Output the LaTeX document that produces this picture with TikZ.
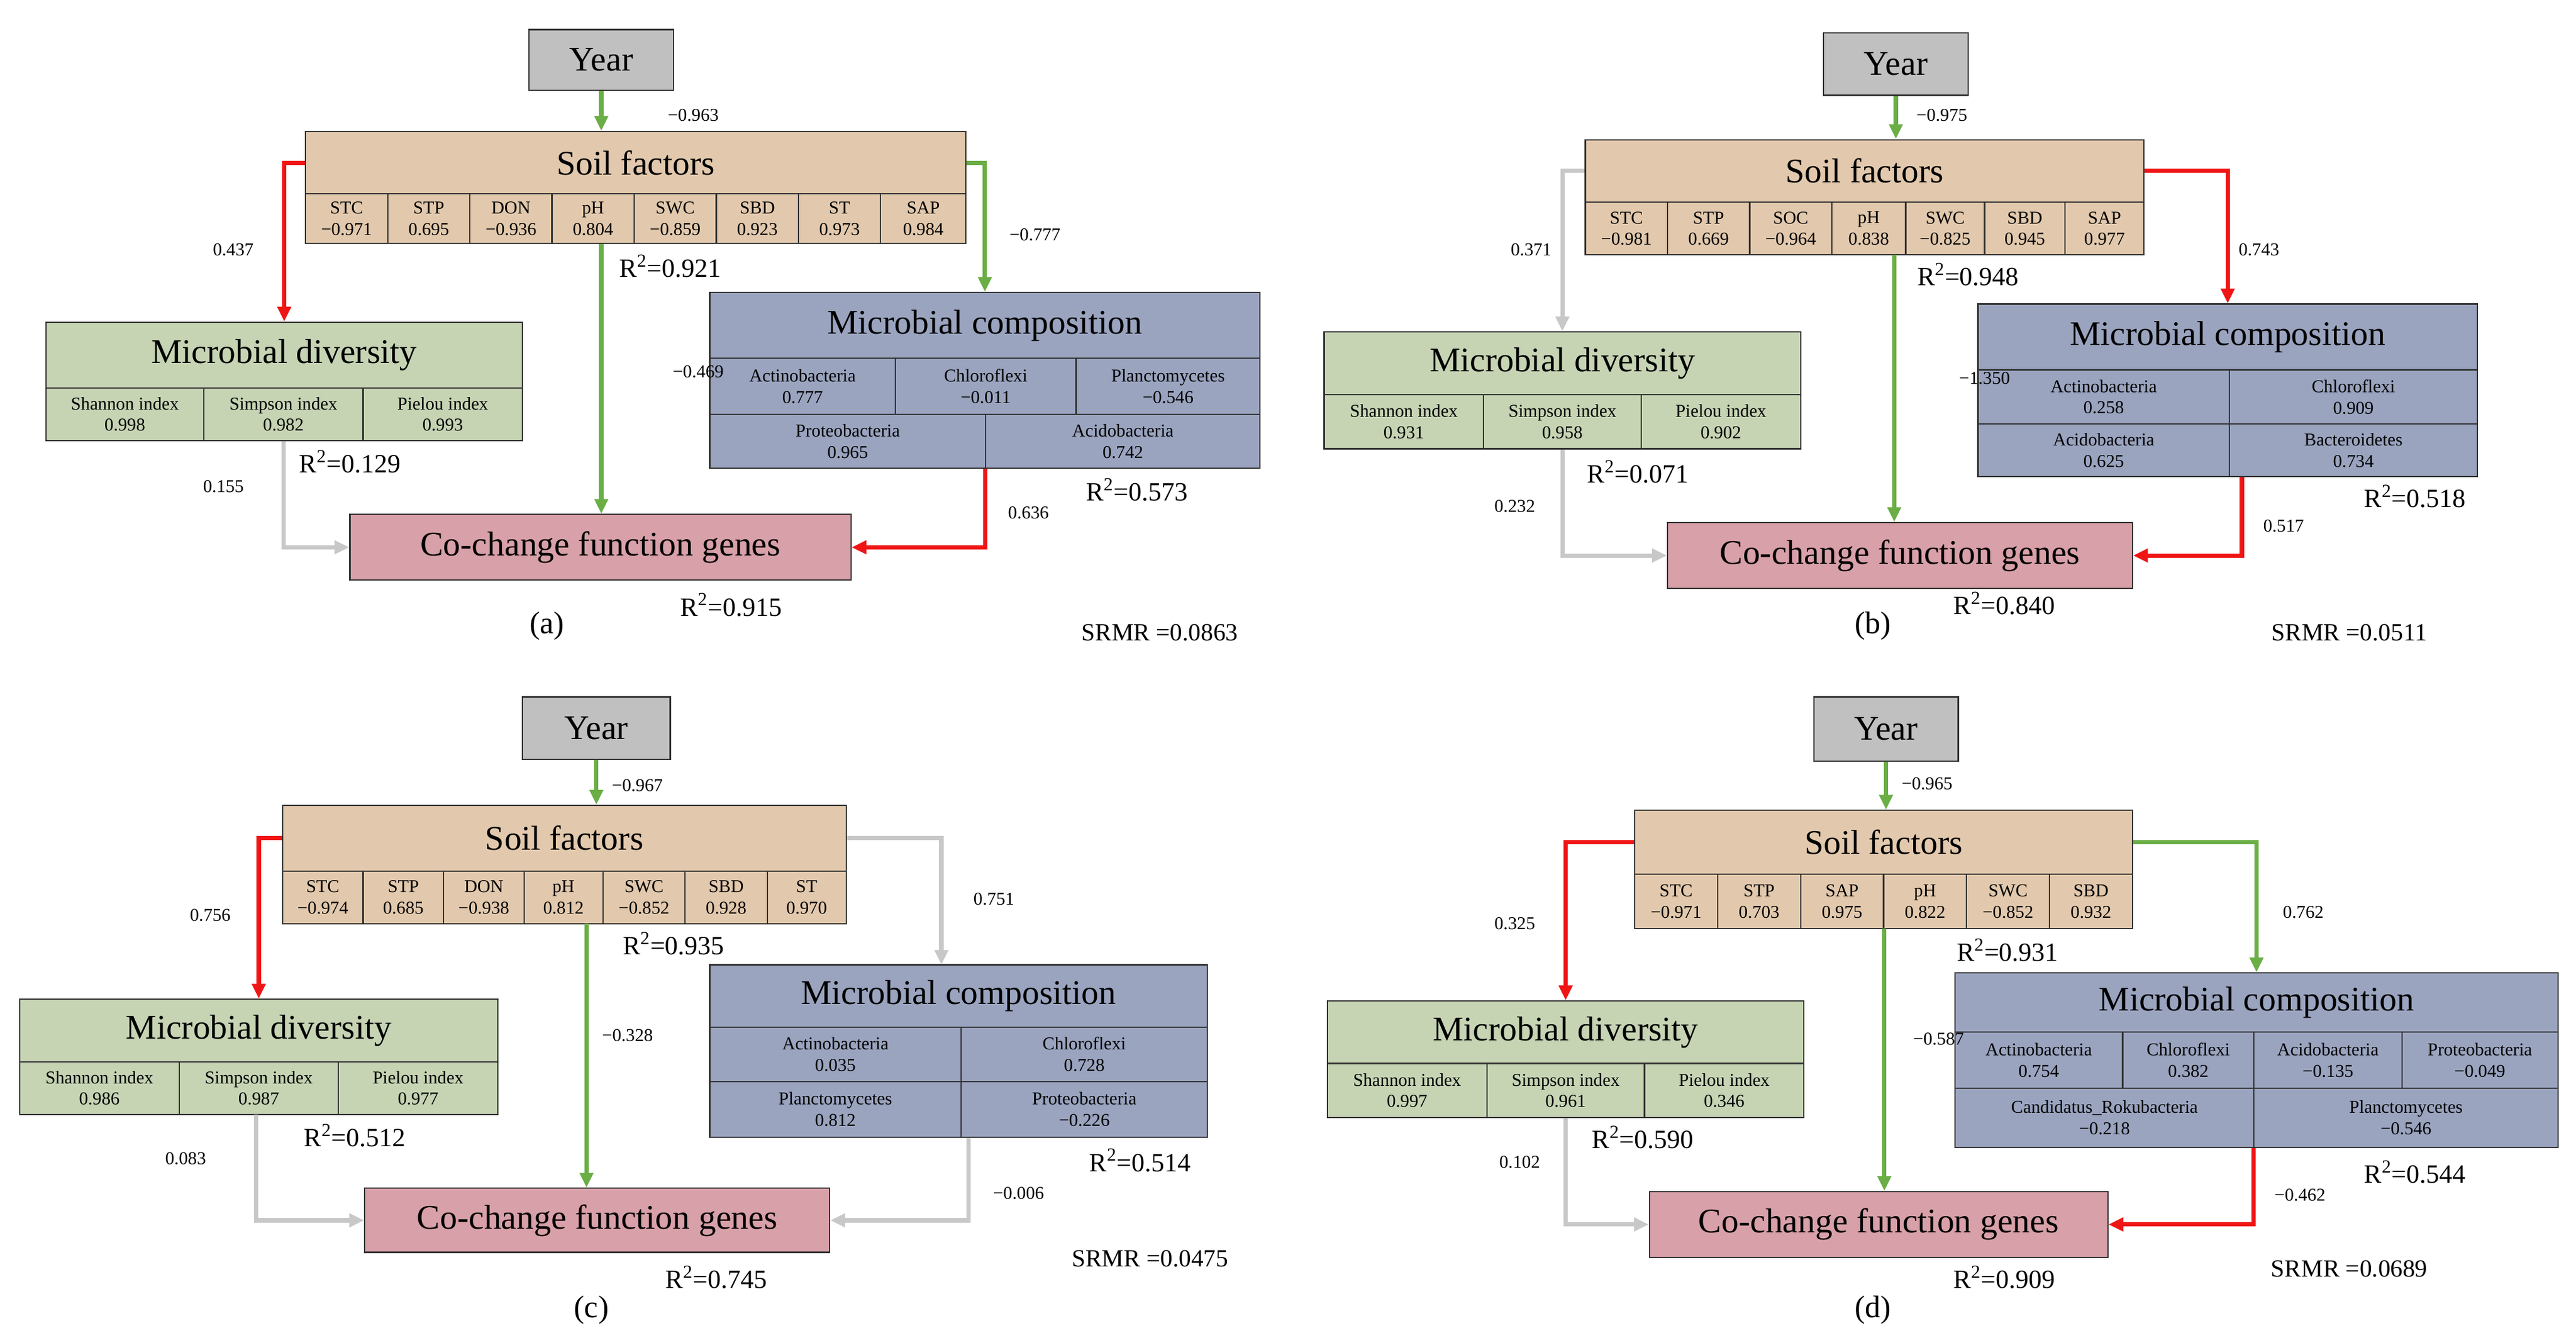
\documentclass[tikz,border=0pt]{standalone}
\usepackage{fontspec}
\setmainfont{Liberation Serif}
\usetikzlibrary{arrows.meta}
\definecolor{ctan}{HTML}{E2C9AD}
\definecolor{cdiv}{HTML}{C6D4B4}
\definecolor{ccomp}{HTML}{9AA4BF}
\definecolor{cgen}{HTML}{D8A0A8}
\definecolor{cyear}{HTML}{C0C0C0}
\definecolor{agreen}{HTML}{6AAE45}
\definecolor{ared}{HTML}{F01515}
\definecolor{agray}{HTML}{C8C8C8}
\tikzset{
 cell/.style={draw=black!80,line width=0.8pt,inner sep=0pt,align=center},
 ttl/.style={font=\fontsize{21}{24}\selectfont},
 tb/.style={font=\fontsize{11}{13}\selectfont},
 soil/.style={fill=ctan},div/.style={fill=cdiv},comp/.style={fill=ccomp},
 gen/.style={fill=cgen},yr/.style={fill=cyear},
 ar/.style={line width=2.6pt,-{Triangle[length=9pt,width=8pt]}},
 ag/.style={ar,agreen},arr/.style={ar,ared},agr/.style={ar,agray},
 lb/.style={font=\fontsize{11}{13}\selectfont,inner sep=1pt},
 rr/.style={font=\fontsize{16}{18}\selectfont,inner sep=1pt},
 pl/.style={font=\fontsize{19}{22}\selectfont,inner sep=1pt},
 sr/.style={font=\fontsize{15}{17}\selectfont,inner sep=1pt},
}
\newcommand\cl[7]{\node[cell,#6,minimum width={(#4-#2)*1pt},minimum height={(#5-#3)*1pt}] (#1) at ({(#2+#4)/2},{(#3+#5)/2}) {#7};}
\newcommand\Rsq[1]{R\textsuperscript{2}=#1}
\begin{document}
\begin{tikzpicture}[x=1pt,y=-1pt]
\useasboundingbox[fill=white] (0,0) rectangle (1568,808);
% ---------------- (a)
\cl{ya}{322}{18}{410}{55}{yr,ttl}{Year}
\cl{sat}{186}{80}{588}{118}{soil,ttl}{Soil factors}
\cl{sa1}{186}{118}{236}{148}{soil,tb}{STC\\−0.971}
\cl{sa2}{236}{118}{286}{148}{soil,tb}{STP\\0.695}
\cl{sa3}{286}{118}{336}{148}{soil,tb}{DON\\−0.936}
\cl{sa4}{336}{118}{386}{148}{soil,tb}{pH\\0.804}
\cl{sa5}{386}{118}{436}{148}{soil,tb}{SWC\\−0.859}
\cl{sa6}{436}{118}{486}{148}{soil,tb}{SBD\\0.923}
\cl{sa7}{486}{118}{536}{148}{soil,tb}{ST\\0.973}
\cl{sa8}{536}{118}{588}{148}{soil,tb}{SAP\\0.984}
\cl{dat}{28}{196}{318}{236}{div,ttl}{Microbial diversity}
\cl{da1}{28}{236}{124}{268}{div,tb}{Shannon index\\0.998}
\cl{da2}{124}{236}{221}{268}{div,tb}{Simpson index\\0.982}
\cl{da3}{221}{236}{318}{268}{div,tb}{Pielou index\\0.993}
\cl{cat}{432}{178}{767}{218}{comp,ttl}{Microbial composition}
\cl{ca1}{432}{218}{545}{252}{comp,tb}{Actinobacteria\\0.777}
\cl{ca2}{545}{218}{655}{252}{comp,tb}{Chloroflexi\\−0.011}
\cl{ca3}{655}{218}{767}{252}{comp,tb}{Planctomycetes\\−0.546}
\cl{ca4}{432}{252}{600}{285}{comp,tb}{Proteobacteria\\0.965}
\cl{ca5}{600}{252}{767}{285}{comp,tb}{Acidobacteria\\0.742}
\cl{ga}{213}{313}{518}{353}{gen,ttl}{Co-change function genes}
\draw[ag] (ya.south) -- (sat.north -| ya.south);
\draw[arr] (sat.west) -| (dat.north);
\draw[ag] (sat.east) -| (cat.north);
\draw[ag] (ya.south |- sa4.south) -- (ya.south |- ga.north);
\draw[agr] (da2.south) |- (ga.west);
\draw[arr] (ca5.south west) |- (ga.east);
\node[lb] (la1) at (422,70) {−0.963};
\node[lb] (la2) at (142,152) {0.437};
\node[lb] (la3) at (630,143) {−0.777};
\node[lb] (la4) at (425,226) {−0.469};
\node[lb] (la5) at (136,296) {0.155};
\node[lb] (la6) at (626,312) {0.636};
\node[rr] (ra1) at (408,162) {\Rsq{0.921}};
\node[rr] (ra2) at (213,281) {\Rsq{0.129}};
\node[rr] (ra3) at (692,298) {\Rsq{0.573}};
\node[rr] (ra4) at (445,368) {\Rsq{0.915}};
\node[pl] (pa) at (333,381) {(a)};
\node[sr] (sra) at (706,385) {SRMR =0.0863};
% ---------------- (b)
\cl{yb}{1110}{20}{1198}{58}{yr,ttl}{Year}
\cl{sbt}{965}{85}{1305}{123}{soil,ttl}{Soil factors}
\cl{sb1}{965}{123}{1015}{155}{soil,tb}{STC\\−0.981}
\cl{sb2}{1015}{123}{1065}{155}{soil,tb}{STP\\0.669}
\cl{sb3}{1065}{123}{1115}{155}{soil,tb}{SOC\\−0.964}
\cl{sb4}{1115}{123}{1160}{155}{soil,tb}{pH\\0.838}
\cl{sb5}{1160}{123}{1208}{155}{soil,tb}{SWC\\−0.825}
\cl{sb6}{1208}{123}{1257}{155}{soil,tb}{SBD\\0.945}
\cl{sb7}{1257}{123}{1305}{155}{soil,tb}{SAP\\0.977}
\cl{dbt}{806}{202}{1096}{240}{div,ttl}{Microbial diversity}
\cl{db1}{806}{240}{903}{273}{div,tb}{Shannon index\\0.931}
\cl{db2}{903}{240}{999}{273}{div,tb}{Simpson index\\0.958}
\cl{db3}{999}{240}{1096}{273}{div,tb}{Pielou index\\0.902}
\cl{cbt}{1204}{185}{1508}{225}{comp,ttl}{Microbial composition}
\cl{cb1}{1204}{225}{1357}{258}{comp,tb}{Actinobacteria\\0.258}
\cl{cb2}{1357}{225}{1508}{258}{comp,tb}{Chloroflexi\\0.909}
\cl{cb3}{1204}{258}{1357}{290}{comp,tb}{Acidobacteria\\0.625}
\cl{cb4}{1357}{258}{1508}{290}{comp,tb}{Bacteroidetes\\0.734}
\cl{gb}{1015}{318}{1298}{358}{gen,ttl}{Co-change function genes}
\draw[ag] (yb.south) -- (sbt.north -| yb.south);
\draw[agr] (sbt.west) -| (dbt.north);
\draw[arr] (sbt.east) -| (cbt.north);
\draw[ag] (1153,155) -- (gb.north -| 1153,0);
\draw[agr] (db2.south) |- (gb.west);
\draw[arr] (cb4.south west) ++(8,0) |- (gb.east);
\node[lb] (lb1) at (1182,70) {−0.975};
\node[lb] (lb2) at (932,152) {0.371};
\node[lb] (lb3) at (1375,152) {0.743};
\node[lb] (lb4) at (1208,230) {−1.350};
\node[lb] (lb5) at (922,308) {0.232};
\node[lb] (lb6) at (1390,320) {0.517};
\node[rr] (rb1) at (1198,167) {\Rsq{0.948}};
\node[rr] (rb2) at (997,287) {\Rsq{0.071}};
\node[rr] (rb3) at (1470,302) {\Rsq{0.518}};
\node[rr] (rb4) at (1220,367) {\Rsq{0.840}};
\node[pl] (pb) at (1140,381) {(b)};
\node[sr] (srb) at (1430,385) {SRMR =0.0511};
% ---------------- (c)
\cl{yc}{318}{424}{408}{462}{yr,ttl}{Year}
\cl{sct}{172}{490}{515}{530}{soil,ttl}{Soil factors}
\cl{sc1}{172}{530}{221}{562}{soil,tb}{STC\\−0.974}
\cl{sc2}{221}{530}{270}{562}{soil,tb}{STP\\0.685}
\cl{sc3}{270}{530}{319}{562}{soil,tb}{DON\\−0.938}
\cl{sc4}{319}{530}{367}{562}{soil,tb}{pH\\0.812}
\cl{sc5}{367}{530}{417}{562}{soil,tb}{SWC\\−0.852}
\cl{sc6}{417}{530}{467}{562}{soil,tb}{SBD\\0.928}
\cl{sc7}{467}{530}{515}{562}{soil,tb}{ST\\0.970}
\cl{dct}{12}{608}{303}{646}{div,ttl}{Microbial diversity}
\cl{dc1}{12}{646}{109}{678}{div,tb}{Shannon index\\0.986}
\cl{dc2}{109}{646}{206}{678}{div,tb}{Simpson index\\0.987}
\cl{dc3}{206}{646}{303}{678}{div,tb}{Pielou index\\0.977}
\cl{cct}{432}{587}{735}{625}{comp,ttl}{Microbial composition}
\cl{cc1}{432}{625}{585}{658}{comp,tb}{Actinobacteria\\0.035}
\cl{cc2}{585}{625}{735}{658}{comp,tb}{Chloroflexi\\0.728}
\cl{cc3}{432}{658}{585}{692}{comp,tb}{Planctomycetes\\0.812}
\cl{cc4}{585}{658}{735}{692}{comp,tb}{Proteobacteria\\−0.226}
\cl{gc}{222}{723}{505}{762}{gen,ttl}{Co-change function genes}
\draw[ag] (yc.south) -- (sct.north -| yc.south);
\draw[arr] (sct.west) -| (dct.north);
\draw[agr] (sct.east) -| (573,587);
\draw[ag] (357,562) -- (gc.north -| 357,0);
\draw[agr] (156,678) |- (gc.west);
\draw[agr] (cc4.south west) ++(5,0) |- (gc.east);
\node[lb] (lc1) at (388,478) {−0.967};
\node[lb] (lc2) at (128,557) {0.756};
\node[lb] (lc3) at (605,547) {0.751};
\node[lb] (lc4) at (382,630) {−0.328};
\node[lb] (lc5) at (113,705) {0.083};
\node[lb] (lc6) at (620,726) {−0.006};
\node[rr] (rc1) at (410,574) {\Rsq{0.935}};
\node[rr] (rc2) at (216,691) {\Rsq{0.512}};
\node[rr] (rc3) at (694,706) {\Rsq{0.514}};
\node[rr] (rc4) at (436,777) {\Rsq{0.745}};
\node[pl] (pc) at (360,797) {(c)};
\node[sr] (src) at (700,766) {SRMR =0.0475};
% ---------------- (d)
\cl{yd}{1104}{424}{1192}{463}{yr,ttl}{Year}
\cl{sdt}{995}{493}{1298}{532}{soil,ttl}{Soil factors}
\cl{sd1}{995}{532}{1045.5}{565}{soil,tb}{STC\\−0.971}
\cl{sd2}{1045.5}{532}{1096}{565}{soil,tb}{STP\\0.703}
\cl{sd3}{1096}{532}{1146.5}{565}{soil,tb}{SAP\\0.975}
\cl{sd4}{1146.5}{532}{1197}{565}{soil,tb}{pH\\0.822}
\cl{sd5}{1197}{532}{1247.5}{565}{soil,tb}{SWC\\−0.852}
\cl{sd6}{1247.5}{532}{1298}{565}{soil,tb}{SBD\\0.932}
\cl{ddt}{808}{609}{1098}{647}{div,ttl}{Microbial diversity}
\cl{dd1}{808}{647}{905}{680}{div,tb}{Shannon index\\0.997}
\cl{dd2}{905}{647}{1001}{680}{div,tb}{Simpson index\\0.961}
\cl{dd3}{1001}{647}{1098}{680}{div,tb}{Pielou index\\0.346}
\cl{cdt}{1190}{592}{1557}{628}{comp,ttl}{Microbial composition}
\cl{cd1}{1190}{628}{1292}{662}{comp,tb}{Actinobacteria\\0.754}
\cl{cd2}{1292}{628}{1372}{662}{comp,tb}{Chloroflexi\\0.382}
\cl{cd3}{1372}{628}{1462}{662}{comp,tb}{Acidobacteria\\−0.135}
\cl{cd4}{1462}{628}{1557}{662}{comp,tb}{Proteobacteria\\−0.049}
\cl{cd5}{1190}{662}{1372}{698}{comp,tb}{Candidatus\_Rokubacteria\\−0.218}
\cl{cd6}{1372}{662}{1557}{698}{comp,tb}{Planctomycetes\\−0.546}
\cl{gd}{1004}{725}{1283}{765}{gen,ttl}{Co-change function genes}
\draw[ag] (yd.south) -- (sdt.north -| yd.south);
\draw[arr] (sdt.west) -| (ddt.north);
\draw[ag] (sdt.east) -| (cdt.north);
\draw[ag] (1147,565) -- (gd.north -| 1147,0);
\draw[agr] (dd2.south) |- (gd.west);
\draw[arr] (cd6.south west) |- (gd.east);
\node[lb] (ld1) at (1173,477) {−0.965};
\node[lb] (ld2) at (922,562) {0.325};
\node[lb] (ld3) at (1402,555) {0.762};
\node[lb] (ld4) at (1180,632) {−0.587};
\node[lb] (ld5) at (925,707) {0.102};
\node[lb] (ld6) at (1400,727) {−0.462};
\node[rr] (rd1) at (1222,578) {\Rsq{0.931}};
\node[rr] (rd2) at (1000,692) {\Rsq{0.590}};
\node[rr] (rd3) at (1470,713) {\Rsq{0.544}};
\node[rr] (rd4) at (1220,777) {\Rsq{0.909}};
\node[pl] (pd) at (1140,797) {(d)};
\node[sr] (srd) at (1430,772) {SRMR =0.0689};
\end{tikzpicture}
\end{document}
